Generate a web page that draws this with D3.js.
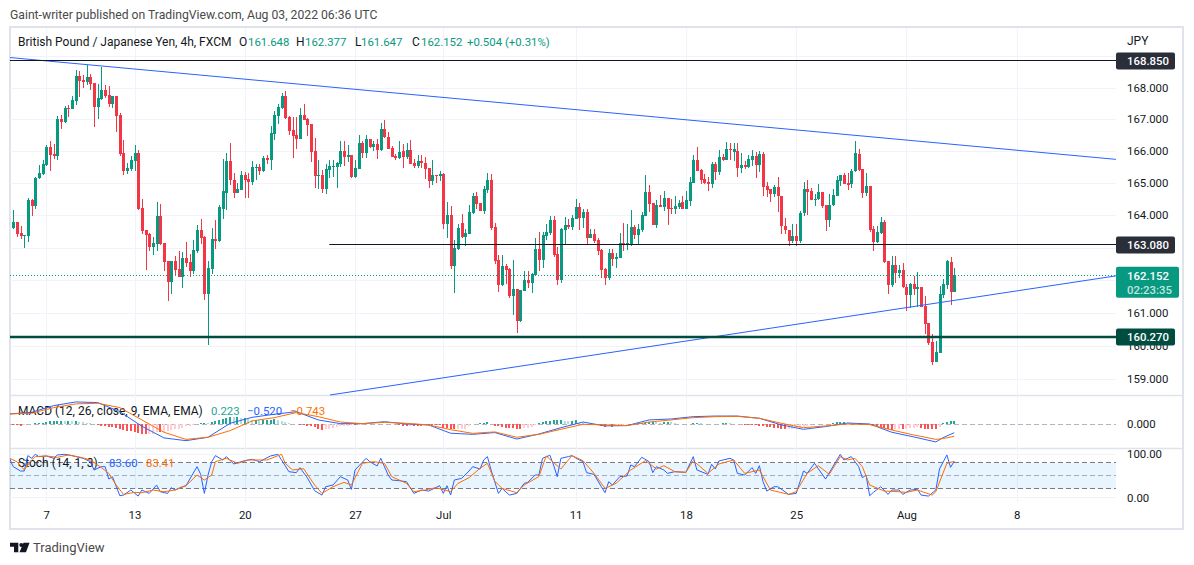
<!DOCTYPE html>
<html>
<head>
<meta charset="utf-8">
<title>GBP/JPY 4h</title>
<script src="https://cdn.jsdelivr.net/npm/d3@7"></script>
<style>
  html, body { margin: 0; padding: 0; background: #fff; }
  svg { display: block; }
  text { font-family: Roboto, sans-serif; font-size: 12px; fill: #131722; }
</style>
</head>
<body>
<svg id="chart" width="1194" height="565"></svg>
<script>
// --- candles, one entry per 4h bar
var opens = [163.60,163.78,163.44,163.35,163.35,164.46,164.28,165.16,165.28,165.56,
166.13,165.92,165.86,167.00,166.91,167.37,167.34,167.59,168.36,168.24,
168.18,168.33,168.14,167.40,167.65,167.93,167.77,167.49,167.74,167.12,
165.95,165.39,165.45,165.70,165.95,164.22,163.54,163.41,163.01,163.10,
163.97,163.13,162.58,161.93,162.58,162.33,162.11,162.67,162.55,162.27,
162.89,163.54,163.32,161.59,162.33,163.26,163.20,164.18,164.70,165.70,
165.11,164.70,164.77,165.26,165.14,165.02,165.48,165.51,165.36,165.79,
165.73,166.54,167.10,167.35,167.75,167.07,166.66,166.51,166.38,167.13,
167.01,166.85,166.01,165.23,165.26,164.80,165.42,165.52,165.51,165.61,
166.01,165.82,165.89,165.20,165.45,166.26,165.95,166.38,166.13,166.23,
166.04,166.69,166.45,166.10,165.85,165.79,166.00,165.80,166.02,165.62,
165.53,165.68,165.64,165.46,165.06,165.25,165.22,165.28,163.73,164.01,
162.43,162.96,163.76,163.33,163.42,164.07,164.60,164.38,164.13,164.78,
165.09,163.64,162.62,161.85,162.43,162.34,161.51,161.72,160.76,161.66,
162.00,161.91,162.15,162.96,162.62,163.36,163.45,163.86,162.80,162.00,
163.55,163.70,163.64,163.89,164.26,163.92,164.10,163.30,163.42,163.24,
162.93,162.34,162.06,162.84,162.65,162.68,163.14,163.11,163.08,163.64,
163.39,163.55,163.98,164.72,164.38,163.70,164.32,164.26,164.54,164.23,
164.20,164.26,164.41,164.20,164.44,165.00,165.71,165.40,165.12,165.03,
164.97,165.59,165.34,165.80,165.71,166.05,165.97,165.99,165.46,165.56,
165.49,165.71,165.84,165.56,165.90,164.91,164.81,164.66,164.88,164.60,
163.66,163.53,163.20,163.36,163.20,164.07,164.82,164.76,164.48,164.50,
164.73,164.33,163.85,164.33,164.60,165.06,165.24,165.01,164.97,165.37,
165.92,165.43,164.69,164.91,163.56,163.16,163.44,163.78,162.58,161.85,
162.46,162.21,162.31,161.79,161.54,161.88,161.72,161.79,161.20,160.68,
160.13,159.52,159.77,161.54,161.85,162.55,161.648];

var highs = [164.15,163.80,163.66,163.39,164.53,164.51,165.20,165.55,165.73,166.20,
166.32,166.23,167.09,167.15,167.43,167.46,167.74,168.55,168.52,168.39,
168.73,168.42,168.14,168.11,168.67,168.08,168.05,167.74,167.74,167.19,
166.35,165.64,165.86,166.20,166.04,164.49,163.54,163.44,163.32,164.40,
164.34,163.13,162.58,162.58,162.73,162.89,162.86,163.16,162.79,163.23,
163.69,163.88,163.35,162.58,163.60,163.85,164.31,165.76,165.94,166.26,
165.32,165.01,165.37,165.34,165.32,165.70,165.58,165.61,165.85,165.89,
166.79,167.25,167.47,167.84,167.88,167.10,167.07,167.07,167.35,167.47,
167.04,166.85,166.41,165.73,165.42,165.61,165.73,165.73,165.67,166.32,
166.32,166.20,165.89,165.73,166.51,166.32,166.51,166.38,166.32,166.38,
166.88,166.97,166.60,166.17,165.92,166.32,166.21,166.24,166.36,165.76,
165.87,165.87,165.82,165.46,165.71,165.25,165.37,165.31,164.41,164.29,
163.24,163.73,164.04,163.58,164.32,164.69,164.71,164.38,164.91,165.31,
165.28,163.76,162.77,162.77,162.49,162.37,162.62,161.72,161.69,162.28,
162.28,162.22,163.30,163.48,163.48,163.73,163.98,163.98,163.02,163.61,
163.95,163.89,164.01,164.51,164.38,164.20,164.20,163.58,163.58,163.29,
162.96,162.37,162.96,162.96,162.84,163.45,163.76,163.73,164.16,163.70,
163.73,164.10,165.25,164.94,164.38,164.47,164.63,164.75,164.54,164.51,
164.60,164.47,164.60,164.75,165.19,165.87,166.14,165.43,165.28,165.19,
165.65,165.65,166.02,165.90,166.30,166.24,166.24,166.24,165.93,165.68,
165.87,166.02,165.96,165.99,165.96,165.03,164.81,164.94,165.19,164.60,
163.92,163.53,163.74,163.74,164.12,165.04,165.09,164.84,164.66,164.97,
164.73,164.33,164.66,164.82,165.21,165.24,165.31,165.30,165.45,166.32,
166.07,165.43,165.31,164.91,163.65,163.65,163.93,163.84,162.58,162.73,
162.73,162.46,162.52,161.88,161.91,162.12,162.24,161.79,161.51,160.68,
160.35,160.16,161.82,162.03,162.61,162.70,162.377];

var lows = [163.58,163.32,163.26,162.98,163.16,163.97,164.19,165.14,165.25,165.54,
165.36,165.76,165.73,166.69,166.88,167.06,167.31,167.46,167.71,167.99,
168.08,167.93,166.75,167.00,167.62,167.68,167.40,167.37,166.60,165.86,
165.24,165.27,165.36,165.39,164.15,163.41,162.30,162.89,162.76,162.89,
163.07,162.27,161.37,161.59,162.14,162.11,161.77,162.39,162.11,162.18,
162.82,163.10,161.40,160.01,162.18,162.95,163.16,163.87,164.16,164.95,
164.52,164.70,164.77,164.52,164.52,164.95,165.11,165.26,165.33,165.61,
165.42,166.35,166.85,167.32,167.01,166.51,165.79,166.07,166.38,166.97,
166.48,165.67,164.83,164.80,164.70,164.67,165.16,165.19,164.83,165.51,
165.54,165.67,165.17,165.17,165.45,165.79,165.79,166.10,166.01,165.76,
166.01,166.41,166.07,165.82,165.73,165.76,165.46,165.74,165.59,165.46,
165.48,165.46,165.12,164.85,164.94,165.00,165.06,163.58,163.30,162.34,
161.60,162.93,163.30,163.06,163.42,164.04,164.20,164.13,164.04,164.69,
163.55,162.49,161.63,161.81,161.88,161.44,160.95,160.39,160.73,161.66,
161.75,161.60,162.12,162.28,162.37,163.24,163.39,162.71,161.85,161.91,
163.09,163.58,163.55,163.89,163.55,163.61,163.08,163.30,163.14,162.77,
162.06,161.85,162.00,162.43,162.37,162.68,162.89,162.91,163.05,163.27,
163.09,163.48,163.98,164.10,163.70,163.61,164.26,164.13,163.70,164.04,
164.04,164.20,164.20,164.20,164.29,165.00,165.37,164.97,164.96,164.75,
164.85,165.09,165.25,165.68,165.71,165.71,165.68,165.19,165.31,165.43,
165.46,165.54,165.15,165.34,164.60,164.57,164.41,164.57,164.10,163.42,
163.41,163.05,163.13,163.05,163.13,163.99,164.01,164.48,164.30,164.48,
164.23,163.50,163.62,164.27,164.60,164.91,164.97,164.77,164.83,165.34,
165.37,164.54,164.60,163.47,162.89,163.14,163.41,162.54,161.57,161.79,
161.91,162.06,161.76,161.07,161.14,161.54,161.17,161.17,160.35,160.04,
159.43,159.52,159.77,161.45,161.72,161.23,161.647];

var closes = [163.78,163.41,163.35,163.38,164.46,164.28,165.16,165.30,165.58,166.13,
165.89,165.86,167.00,166.91,167.37,167.34,167.62,168.36,168.21,168.18,
168.33,168.11,167.40,167.68,167.93,167.74,167.49,167.74,167.09,165.92,
165.39,165.48,165.73,165.95,164.19,163.51,163.38,163.01,163.13,163.97,
163.10,162.55,161.93,162.58,162.30,162.11,162.67,162.52,162.27,162.92,
163.54,163.29,161.59,162.36,163.26,163.20,164.25,164.74,165.70,165.08,
164.70,164.80,165.26,165.11,165.02,165.51,165.51,165.36,165.79,165.73,
166.57,167.13,167.38,167.75,167.04,166.63,166.48,166.38,167.13,166.97,
166.82,165.98,165.23,165.26,164.80,165.45,165.54,165.54,165.64,166.01,
165.82,165.89,165.20,165.48,166.26,165.95,166.38,166.13,166.23,166.04,
166.69,166.45,166.07,165.82,165.79,165.98,165.80,166.02,165.59,165.53,
165.68,165.62,165.43,165.06,165.25,165.22,165.28,163.73,164.01,162.43,
162.99,163.61,163.33,163.45,164.10,164.60,164.35,164.13,164.81,165.09,
163.61,162.59,161.85,162.43,162.31,161.51,161.72,160.76,161.69,162.00,
161.91,162.19,162.96,162.62,163.39,163.48,163.86,162.77,162.00,163.58,
163.70,163.64,163.92,164.26,163.92,164.10,163.30,163.42,163.21,162.90,
162.31,162.06,162.84,162.65,162.71,163.14,163.11,163.14,163.64,163.39,
163.58,164.01,164.72,164.35,163.70,164.32,164.26,164.54,164.20,164.20,
164.29,164.38,164.20,164.47,165.03,165.71,165.37,165.09,165.00,164.97,
165.59,165.34,165.80,165.71,166.05,166.02,166.05,165.46,165.56,165.49,
165.74,165.84,165.56,165.90,164.88,164.78,164.66,164.88,164.60,163.67,
163.53,163.20,163.36,163.20,164.07,164.82,164.73,164.48,164.51,164.73,
164.28,163.85,164.33,164.63,165.09,165.24,164.97,164.95,165.37,165.93,
165.40,164.69,164.91,163.53,163.16,163.47,163.78,162.55,161.85,162.46,
162.21,162.31,161.79,161.54,161.88,161.72,161.79,161.17,160.65,160.10,
159.52,159.80,161.57,161.88,162.58,161.63,162.152];

// --- price scale grid, labels and levels
var priceGrid = [169, 168, 167, 166, 165, 164, 163, 162, 161, 160, 159];
var priceLabels = [168, 167, 166, 165, 164, 161, 160, 159];
var level1 = 168.850;
var level2 = 163.080;
var level3 = 160.270;
var lastPrice = 162.152;

// --- trend lines: [bar, price]
var upperTrendBars = [-0.87, 300];
var upperTrendPrices = [168.96, 165.74];
var lowerTrendBars = [86.2, 300];
var lowerTrendPrices = [158.52, 162.13];
var level2StartBar = 86;

// --- time axis
var timeTickBars = [9, 33, 63, 93, 117, 153, 183, 213, 243, 273];
var timeTickLabels = ["7", "13", "20", "27", "Jul", "11", "18", "25", "Aug", "8"];

// --- MACD lines, read every 6 bars
var macdBars = [-1,5,11,17,23,29,35,41,47,53,59,65,71,77,83,89,95,101,107,113,119,125,131,137,143,149,155,161,167,173,179,185,191,197,203,209,215,221,227,233,239,245,251,253,256];
var macdLine = [.64,.74,1.15,1.38,1.34,.78,-.12,-.84,-1.01,-.80,.06,.43,.62,.78,.27,.04,.04,.16,.02,-.04,-.55,-.62,-.51,-.91,-.60,-.21,.14,-.10,-.08,.27,.33,.47,.51,.51,.37,-.04,-.31,-.14,.08,.02,-.49,-.78,-1.09,-.82,-.52];
var macdSignal = [.64,.68,1.03,1.26,1.30,1.03,.27,-.49,-.93,-.80,-.39,.21,.41,.72,.47,.14,.04,.12,.06,-.04,-.33,-.56,-.47,-.80,-.62,-.31,0,-.04,-.08,.14,.27,.41,.47,.49,.37,.06,-.21,-.10,.02,-.02,-.35,-.66,-.93,-.88,-.743];
var macdHist = [-.02,-.04,-.08,-.06,.02,.04,.06,.08,.1,.14,
.18,.2,.2,.22,.2,.2,.18,.2,.14,.12,
.1,.06,.02,-.04,-.1,-.12,-.16,-.18,-.22,-.3,
-.36,-.42,-.44,-.5,-.52,-.58,-.62,-.6,-.58,-.5,
-.5,-.46,-.42,-.38,-.32,-.26,-.2,-.12,-.08,-.02,
.04,.06,.08,.06,.12,.2,.26,.34,.4,.44,
.42,.42,.36,.36,.3,.28,.28,.24,.24,.26,
.28,.3,.26,.22,.16,.1,.04,.02,-.02,-.02,
-.08,-.12,-.18,-.26,-.36,-.3,-.26,-.2,-.16,-.12,
-.1,-.08,-.06,-.06,-.04,-.02,.02,.02,.02,.04,
.04,.04,.02,.02,0,-.04,-.1,-.1,-.08,-.1,
-.1,-.1,-.02,-.02,-.02,-.02,-.04,-.2,-.24,-.28,
-.32,-.3,-.28,-.26,-.1,.02,.04,.08,.1,.14,
.02,-.08,-.12,-.16,-.2,-.22,-.24,-.26,-.28,-.24,
-.2,-.16,-.06,.06,.12,.2,.2,.24,.24,.26,
.22,.2,.22,.26,.1,.06,.04,.02,.02,-.02,
-.1,-.14,-.1,-.14,-.1,-.06,-.04,-.02,-.02,.04,
.06,.08,.1,.14,.16,.12,.1,.12,.14,.12,
.08,.04,.04,.02,.02,.06,.1,.06,.04,.02,
.04,.04,.02,.1,.1,.06,.04,.02,0,-.02,
-.04,-.04,-.06,-.1,-.1,-.14,-.16,-.2,-.24,-.26,
-.3,-.28,-.26,-.24,-.2,-.16,-.08,.02,.02,.02,
.04,.02,.04,.1,.14,.14,.16,.1,.08,.06,
.04,.02,.02,0,-.08,-.12,-.16,-.2,-.28,-.34,
-.32,-.3,-.3,-.26,-.22,-.2,-.18,-.24,-.26,-.28,
-.28,-.3,-.16,.06,.14,.2,.223];

// --- Stochastic, turning points
var stochKBars = [-1,0,2,3,4,5,6,7,9,11,12,14,16,19,21,22,24,25,26,27,29,30,32,34,35,37,39,40,42,43,44,46,47,50,51,52,53,54,55,57,58,60,63,65,67,70,72,73,75,77,78,80,82,84,85,87,89,91,92,93,96,97,99,100,102,103,105,107,109,111,113,116,117,118,119,120,122,124,125,127,128,129,130,132,133,135,137,139,140,142,143,144,146,147,148,149,151,152,154,155,156,158,160,161,162,163,165,167,168,169,171,173,174,175,177,178,180,183,185,186,189,190,191,192,195,196,197,199,201,202,203,204,205,207,208,211,213,215,216,218,221,223,225,226,228,230,231,232,233,234,236,238,239,241,242,244,246,247,249,251,252,254,255,256];
var stochK = [90.7,71.3,61.2,61.2,96.9,90.7,100,94.6,96.1,90.7,98.4,100,96.9,90.7,82.9,63.6,71.3,71.3,42.6,48.1,3.9,5.4,17.1,3.1,17.1,9.3,28.7,13.2,9.3,22.5,17.1,24.8,27.1,71.3,53.5,9.3,51.9,82.9,96.9,86.8,94.6,77.5,85.3,88.4,82.9,96.1,100,86.8,59.7,57.4,69,45.7,15.5,5.4,24.8,28.7,48.1,40.3,18.6,63.6,90.7,82.9,72.9,90.7,51.9,40.3,38.8,36.4,9.3,17.1,14.7,27.1,9.3,27.1,5.4,40.3,44.2,61.2,71.3,65.9,86.8,94.6,63.6,9.3,20.9,5.4,9.3,32.6,34.9,51.9,51.9,90.7,97.7,75.2,48.1,90.7,94.6,96.9,86.8,82.9,57.4,53.5,24.8,10.9,36.4,28.7,48.1,49.6,75.2,71.3,93,82.9,57.4,71.3,63.6,55.8,59.7,58.1,94.6,63.6,53.5,76.7,65.9,84.5,90.7,86.8,55.8,51.9,69,55.8,73.6,36.4,14.7,24.8,24.8,7,9.3,61.2,55.8,79.1,42.6,71.3,100,86.8,94.6,71.3,45.7,51.9,3.9,11.6,24.8,7,17.1,17.1,7,17.1,18.6,5.4,3.1,17.1,65.9,98.4,69.8,83.6];
var stochDBars = [-1,1,3,5,6,9,12,15,18,21,24,26,28,30,33,35,38,41,44,47,50,52,54,55,58,61,64,69,73,74,76,79,82,84,87,90,92,95,98,101,103,105,107,109,112,115,119,121,124,127,129,131,133,137,139,143,145,149,152,155,158,161,164,168,172,175,177,180,183,185,189,192,196,199,203,206,211,213,216,219,222,225,227,229,231,233,237,241,243,246,250,251,254,256];
var stochD = [90.7,83,63.6,86.8,94.6,96.1,93,98.4,93.8,86.8,69,55.8,28.7,7,11.6,10.9,17.1,13.2,17.1,27.1,51.9,40.3,51.9,82.9,90.7,79.1,86.8,86.8,100,79.1,63.6,66.7,28.7,9.3,24.8,34.9,28.7,79.1,82.9,79.1,48.1,40.3,32.6,13.2,17.1,22.5,13.2,32.6,45.7,67.4,79.1,37.9,20.9,10.9,28.7,48.1,96.1,65.9,96.9,85.3,55.8,20.9,32.6,63.6,85.3,65.9,73.6,59.7,58.1,85.3,55.8,77.5,86.8,55.8,63.6,17.1,7,13.2,55.8,73.6,53.5,94.6,86.8,90.7,71.3,28.7,14.7,13.2,11.6,17.1,5.4,13.2,79.1,83.41];
var stochLevels = [80, 50, 20];

var svg = d3.select("#chart");
var left = 10, right = 1116;

var x = d3.scaleLinear().domain([9, 273]).range([46.3, 1016.7]);
var y = d3.scaleLog().domain([168, 159]).range([87.7, 379]);
var yMacd = d3.scaleLinear().domain([-1, 1]).range([440.5, 408.1]);
var yStoch = d3.scaleLinear().domain([0, 100]).range([497.4, 454.3]);

var bars = d3.range(opens.length);
var GREEN = "#089981", RED = "#f23645", BLUE = "#2962ff", ORANGE = "#ff6d00", GRID = "#f0f3fa";
var NUM_SIZE = "11.4px";

function crisp(v) { return Math.floor(v) + 0.5; }

svg.append("defs").append("clipPath").attr("id", "pane")
  .append("rect").attr("x", left).attr("y", 27).attr("width", right - left).attr("height", 475);

// frame
svg.append("rect").attr("x", 10).attr("y", 27).attr("width", 1173).attr("height", 502)
  .attr("fill", "none").attr("stroke", "#e0e3eb").attr("stroke-width", 2);
svg.append("line").attr("x1", 10).attr("x2", 1183).attr("y1", 395.5).attr("y2", 395.5).attr("stroke", "#e0e3eb").attr("stroke-width", 1.5);
svg.append("line").attr("x1", 10).attr("x2", 1183).attr("y1", 448.5).attr("y2", 448.5).attr("stroke", "#e0e3eb").attr("stroke-width", 1.5);

// grid
var grid = svg.append("g").attr("stroke", GRID).attr("shape-rendering", "crispEdges");
timeTickBars.forEach(function (b) {
  grid.append("line").attr("x1", Math.round(x(b))).attr("x2", Math.round(x(b))).attr("y1", 28).attr("y2", 502);
});
priceGrid.forEach(function (p) {
  grid.append("line").attr("x1", left).attr("x2", right).attr("y1", Math.round(y(p))).attr("y2", Math.round(y(p)));
});
[0, 100].forEach(function (v) {
  grid.append("line").attr("x1", left).attr("x2", right).attr("y1", Math.round(yStoch(v))).attr("y2", Math.round(yStoch(v)));
});

var plot = svg.append("g").attr("clip-path", "url(#pane)");

// candles
var candles = plot.append("g").attr("shape-rendering", "crispEdges");
candles.selectAll("rect.wick").data(bars).join("rect").attr("class", "wick")
  .attr("x", function (i) { return Math.round(x(i)); })
  .attr("width", 1)
  .attr("y", function (i) { return y(highs[i]); })
  .attr("height", function (i) { return y(lows[i]) - y(highs[i]); })
  .attr("fill", function (i) { return closes[i] >= opens[i] ? GREEN : RED; });
candles.selectAll("rect.body").data(bars).join("rect").attr("class", "body")
  .attr("x", function (i) { return Math.round(x(i)) - 1; })
  .attr("width", 3)
  .attr("y", function (i) { return y(Math.max(opens[i], closes[i])); })
  .attr("height", function (i) { return Math.max(1, Math.abs(y(opens[i]) - y(closes[i]))); })
  .attr("fill", function (i) { return closes[i] >= opens[i] ? GREEN : RED; });

// last price dotted line
plot.append("line").attr("x1", left).attr("x2", right).attr("y1", crisp(y(lastPrice))).attr("y2", crisp(y(lastPrice)))
  .attr("stroke", GREEN).attr("stroke-dasharray", "1,2");

// drawings
function trend(bs, ps) {
  plot.append("line").attr("x1", x(bs[0])).attr("y1", y(ps[0])).attr("x2", x(bs[1])).attr("y2", y(ps[1]))
    .attr("stroke", BLUE).attr("stroke-width", 1);
}
trend(upperTrendBars, upperTrendPrices);
trend(lowerTrendBars, lowerTrendPrices);
plot.append("line").attr("x1", left).attr("x2", right).attr("y1", crisp(y(level1))).attr("y2", crisp(y(level1))).attr("stroke", "#131722");
plot.append("line").attr("x1", x(level2StartBar)).attr("x2", right).attr("y1", crisp(y(level2))).attr("y2", crisp(y(level2))).attr("stroke", "#131722");
plot.append("line").attr("x1", left).attr("x2", right).attr("y1", y(level3)).attr("y2", y(level3)).attr("stroke", "#004d40").attr("stroke-width", 2.5);

// MACD pane
plot.append("line").attr("x1", left).attr("x2", right).attr("y1", crisp(yMacd(0))).attr("y2", crisp(yMacd(0)))
  .attr("stroke", "#b2b5be").attr("stroke-dasharray", "5,3");
function histColor(i) {
  var v = macdHist[i], prev = i > 0 ? macdHist[i - 1] : 0;
  if (v >= 0) return v >= prev ? "#26a69a" : "#b2dfdb";
  return v <= prev ? "#ff5252" : "#ffcdd2";
}
plot.append("g").attr("shape-rendering", "crispEdges").selectAll("rect").data(bars).join("rect")
  .attr("x", function (i) { return Math.round(x(i)) - 1; })
  .attr("width", 2)
  .attr("y", function (i) { return Math.min(yMacd(0), yMacd(macdHist[i])); })
  .attr("height", function (i) { return Math.abs(yMacd(macdHist[i]) - yMacd(0)); })
  .attr("fill", histColor);

function drawLine(bs, vals, scale, color) {
  var line = d3.line().x(function (b) { return x(b); })
    .y(function (b, k) { return scale(vals[k]); });
  plot.append("path").attr("d", line(bs)).attr("fill", "none").attr("stroke", color).attr("stroke-width", 1);
}

// Stochastic band
plot.append("rect").attr("x", left).attr("width", right - left)
  .attr("y", yStoch(80)).attr("height", yStoch(20) - yStoch(80))
  .attr("fill", "#2196f3").attr("fill-opacity", 0.1);
stochLevels.forEach(function (v) {
  plot.append("line").attr("x1", left).attr("x2", right).attr("y1", crisp(yStoch(v))).attr("y2", crisp(yStoch(v)))
    .attr("stroke", "#787b86").attr("stroke-opacity", v == 50 ? 0.6 : 1).attr("stroke-dasharray", "5,3");
});

// legends sit under the indicator lines
function label(txt, px, py, color, size) {
  return svg.append("text").attr("x", px).attr("y", py)
    .style("fill", color || "#131722").style("font-size", size || null).text(txt);
}
label("MACD (12, 26, close, 9, EMA, EMA)", 18, 415);
label("0.223", 211, 415, "#26a69a", NUM_SIZE);
label("\u22120.520", 247, 415, BLUE, NUM_SIZE);
label("\u22120.743", 290, 415, ORANGE, NUM_SIZE);
label("Stoch (14, 1, 3)", 18, 467);
label("83.60", 109, 467, BLUE, NUM_SIZE);
label("83.41", 146, 467, ORANGE, NUM_SIZE);

plot = svg.append("g").attr("clip-path", "url(#pane)");
drawLine(macdBars, macdLine, yMacd, BLUE);
drawLine(macdBars, macdSignal, yMacd, ORANGE);
drawLine(stochKBars, stochK, yStoch, BLUE);
drawLine(stochDBars, stochD, yStoch, ORANGE);

// price axis
function styleAxis(g) {
  g.select(".domain").remove();
  g.selectAll(".tick line").remove();
  g.selectAll("text").style("font-family", "Roboto, sans-serif").style("font-size", NUM_SIZE).style("fill", "#131722");
}
svg.append("g").attr("transform", "translate(1127,0)")
  .call(d3.axisRight(y).tickValues(priceLabels).tickFormat(d3.format(".3f")).tickSize(0).tickPadding(0))
  .call(styleAxis);
svg.append("g").attr("transform", "translate(1127,0)")
  .call(d3.axisRight(yMacd).tickValues([0]).tickFormat(d3.format(".3f")).tickSize(0).tickPadding(0))
  .call(styleAxis);
svg.append("g").attr("transform", "translate(1127,0)")
  .call(d3.axisRight(yStoch).tickValues([0, 100]).tickFormat(d3.format(".2f")).tickSize(0).tickPadding(0))
  .call(styleAxis);

// time axis
svg.append("g").attr("transform", "translate(0,511)")
  .call(d3.axisBottom(x).tickValues(timeTickBars)
    .tickFormat(function (d, i) { return timeTickLabels[i]; }).tickSize(0).tickPadding(0))
  .call(styleAxis);

label("JPY", 1127, 45);

// price boxes
function priceBox(price, w, h, color, lines) {
  var top = y(price) - 8.5;
  svg.append("rect").attr("x", 1116).attr("y", top).attr("width", w).attr("height", h).attr("rx", 2).attr("fill", color);
  lines.forEach(function (t, k) {
    svg.append("text").attr("x", 1127).attr("y", top + 13 + k * 14).style("fill", k ? "rgba(255,255,255,0.75)" : "#fff")
      .style("font-size", NUM_SIZE).style("font-weight", 500).text(t);
  });
}
priceBox(level1, 59, 17, "#2a2e39", [d3.format(".3f")(level1)]);
priceBox(level2, 59, 17, "#2a2e39", [d3.format(".3f")(level2)]);
priceBox(lastPrice, 63, 31, GREEN, [d3.format(".3f")(lastPrice), "02:23:35"]);
priceBox(level3, 59, 17, "#004d40", [d3.format(".3f")(level3)]);

// header
label("Gaint-writer published on TradingView.com, Aug 03, 2022 06:36 UTC", 10, 19, "#4a4a4a", "12.2px");
label("British Pound / Japanese Yen, 4h, FXCM", 18, 46);
var valColor = "#089981";
label("O", 239, 46); label("161.648", 248, 46, valColor, NUM_SIZE);
label("H", 296, 46); label("162.377", 305, 46, valColor, NUM_SIZE);
label("L", 355, 46); label("161.647", 361, 46, valColor, NUM_SIZE);
label("C", 412, 46); label("162.152", 421, 46, valColor, NUM_SIZE);
label("+0.504 (+0.31%)", 467, 46, valColor, NUM_SIZE);

// footer logo
var logo = svg.append("g").attr("fill", "#131722");
logo.append("path").attr("d", "M10 542.7H18.3V552.3H14V546.7H10Z");
logo.append("circle").attr("cx", 21.3).attr("cy", 545).attr("r", 2);
logo.append("path").attr("d", "M23.5 542.7H29.5L26 552.3H19.5Z");
label("TradingView", 33, 552, "#4a4a4a", "13px");
</script>
</body>
</html>
